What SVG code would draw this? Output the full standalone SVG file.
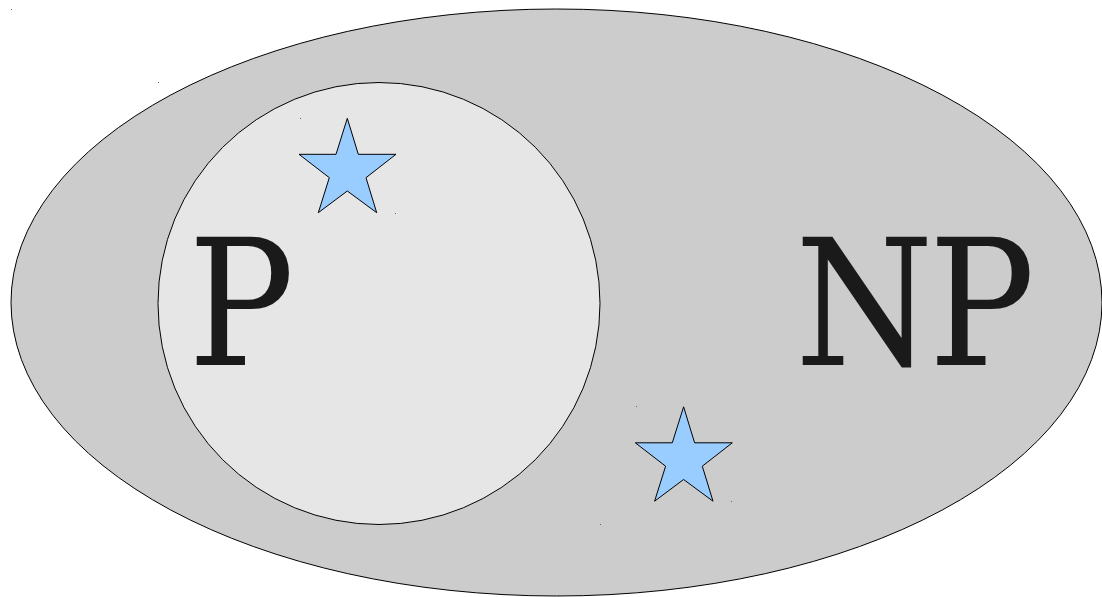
<svg xmlns="http://www.w3.org/2000/svg" width="1102" height="597" viewBox="0 0 1102 597">
<defs>
<style>
.set{stroke:#000;stroke-width:1}
.star{fill:#99ccff;stroke:#000;stroke-width:1;stroke-linejoin:miter}
.lbl{font-family:"DejaVu Serif Condensed","DejaVu Serif",serif;font-stretch:condensed;font-size:176px;fill:#1a1a1a}
.dot{fill:#666}
</style>
<path id="starShape" d="M347.3,118.3 L358.3,154.3 L396,154.3 L366,177.7 L376.7,212.7 L347.3,191 L318.3,212.7 L329.3,177.7 L299,154.3 L336,154.3 Z"/>
</defs>
<rect width="1102" height="597" fill="#fff"/>
<g id="NP">
<ellipse class="set" cx="556.5" cy="302.5" rx="545.5" ry="293.5" fill="#cccccc"/>
<text class="lbl" x="795" y="365" letter-spacing="-5">NP</text>
</g>
<g id="P">
<circle class="set" cx="379" cy="303.5" r="221" fill="#e6e6e6"/>
<text class="lbl" x="188" y="365">P</text>
</g>
<g id="star1">
<use href="#starShape" class="star"/>
</g>
<g id="star2">
<use href="#starShape" class="star" transform="translate(336.3,288.5)"/>
</g>
<g id="markers">
<rect class="dot" x="11" y="9" width="1" height="1" fill="#000"/>
<rect class="dot" x="158" y="82" width="1" height="1" fill="#999"/>
<rect class="dot" x="300" y="118" width="1" height="1"/>
<rect class="dot" x="395" y="213" width="1" height="1"/>
<rect class="dot" x="636" y="406" width="1" height="1"/>
<rect class="dot" x="731" y="501" width="1" height="1"/>
<rect class="dot" x="600" y="524" width="1" height="1"/>
</g>
</svg>
